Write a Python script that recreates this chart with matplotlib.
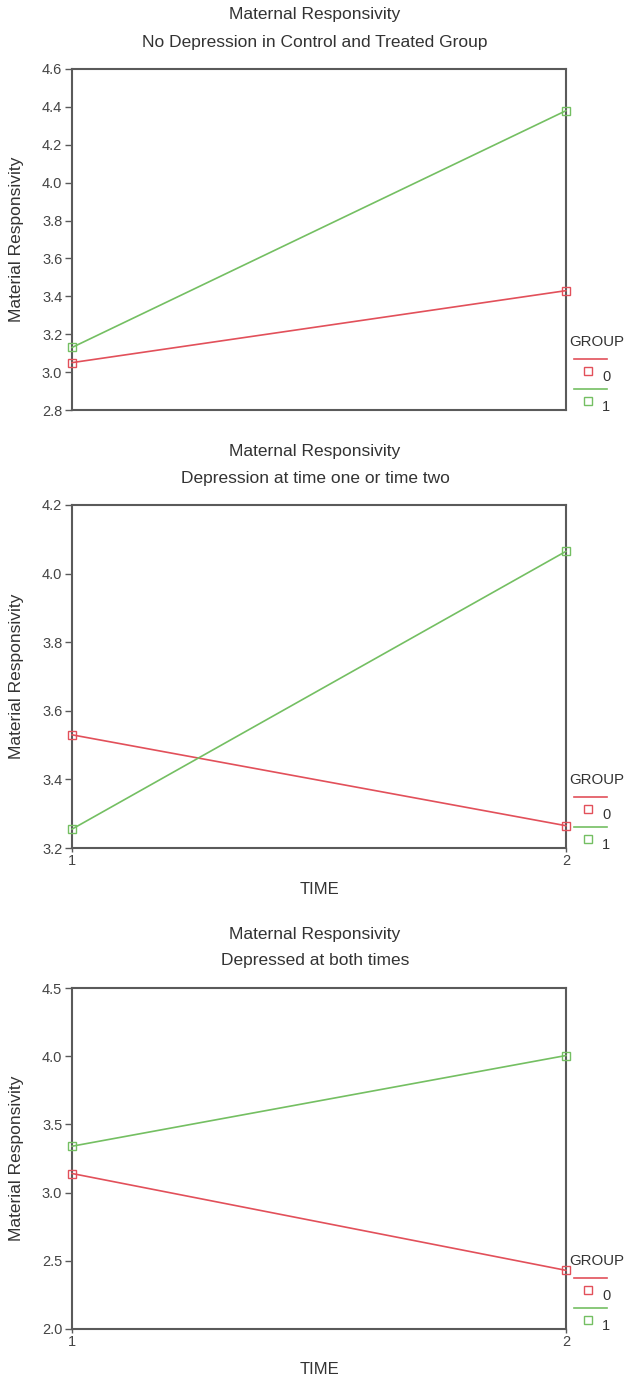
#maternal responsivity, three panels (group x time)

import numpy as np
import matplotlib
matplotlib.use('Agg')
import matplotlib.pyplot as plt

plt.rcParams['font.family'] = ['Liberation Sans', 'DejaVu Sans']

time_points = [1, 2]
group_labels = ['0', '1']

# panel 1: no depression
nodep_group0 = [3.05, 3.43]
nodep_group1 = [3.13, 4.38]
# panel 2: depression at time one or time two
onedep_group0 = [3.53, 3.265]
onedep_group1 = [3.255, 4.065]
# panel 3: depressed at both times
bothdep_group0 = [3.14, 2.43]
bothdep_group1 = [3.34, 4.005]

titles = [('Maternal Responsivity', 'No Depression in Control and Treated Group'),
          ('Maternal Responsivity', 'Depression at time one or time two'),
          ('Maternal Responsivity', 'Depressed at both times')]
yticks_list = [np.arange(2.8, 4.61, 0.2), np.arange(3.2, 4.21, 0.2), np.arange(2.0, 4.51, 0.5)]
ylims = [(2.8, 4.6), (3.2, 4.2), (2.0, 4.5)]

red = '#e2505a'
green = '#74bf62'
spine_col = '#5a5a5a'
text_col = '#333333'

W, H = 627, 1382
fig = plt.figure(figsize=(W/100, H/100), dpi=100)

# axes boxes in pixels (left, top, right, bottom)
boxes = [(72, 69, 566, 410), (72, 505, 566, 848), (72, 988, 566, 1329)]
series = [(nodep_group0, nodep_group1), (onedep_group0, onedep_group1), (bothdep_group0, bothdep_group1)]


for i, (box, (g0, g1)) in enumerate(zip(boxes, series)):
    l, t, r, b = box
    aw, ah = r - l, b - t
    ax = fig.add_axes([l/W, 1-b/H, aw/W, ah/H])
    ax.plot(time_points, g0, color=red, lw=1.2, marker='s', markersize=6,
            markerfacecolor='none', markeredgewidth=1.0, clip_on=False, zorder=3)
    ax.plot(time_points, g1, color=green, lw=1.2, marker='s', markersize=6,
            markerfacecolor='none', markeredgewidth=1.0, clip_on=False, zorder=3)
    ax.set_xlim(1, 2)
    ax.set_ylim(*ylims[i])
    ax.set_yticks(yticks_list[i])
    ax.set_yticklabels(['%.1f' % v for v in yticks_list[i]])
    ax.set_xticks(time_points)
    for s in ax.spines.values():
        s.set_color(spine_col)
        s.set_linewidth(1.5)
    ax.tick_params(axis='y', direction='out', length=5, width=1, color=spine_col,
                   labelsize=10.5, labelcolor='#444444', pad=2)
    ax.tick_params(axis='x', direction='out', length=3, width=1, color=spine_col,
                   labelsize=10.5, labelcolor='#444444', pad=1)
    if i == 0:
        ax.set_xticklabels([])
        ax.tick_params(axis='x', length=0)
    else:
        ax.annotate('TIME', xy=(0.5, 0), xycoords='axes fraction', xytext=(0, -41*0.72),
                    textcoords='offset points', ha='center', va='center', fontsize=12, color=text_col)

    ax.annotate(titles[i][0], xy=(0.5, 1), xycoords='axes fraction', xytext=(-4*0.72, 54*0.72),
                textcoords='offset points', ha='center', va='center', fontsize=12.5, color=text_col)
    ax.annotate(titles[i][1], xy=(0.5, 1), xycoords='axes fraction', xytext=(-4*0.72, 27*0.72),
                textcoords='offset points', ha='center', va='center', fontsize=12.5, color=text_col)
    fig.text(17/W, 1-(t+b)/2/H, 'Material Responsivity', rotation=90, ha='center', va='center',
             fontsize=12.5, color=text_col)

    # hand-drawn legend to the right of the axes, pixel offsets from bottom-right corner
    fx = lambda dx: 1 + dx/aw
    fy = lambda dy: dy/ah
    ax.text(fx(3), fy(68), 'GROUP', transform=ax.transAxes, ha='left', va='center', fontsize=10.8,
            color=text_col, clip_on=False)
    for j, (col, lab) in enumerate(zip([red, green], group_labels)):
        base = 51 - 30*j
        ax.plot([fx(8), fx(41)], [fy(base), fy(base)], color=col, lw=1.2,
                transform=ax.transAxes, clip_on=False)
        ax.plot([fx(22)], [fy(base-12)], marker='s', markersize=5.5, markerfacecolor='none',
                markeredgecolor=col, markeredgewidth=1.0, transform=ax.transAxes, clip_on=False)
        ax.text(fx(36), fy(base-18), lab, transform=ax.transAxes, ha='left', va='center',
                fontsize=10.5, color=text_col, clip_on=False)

plt.savefig('out.png', dpi=100)
